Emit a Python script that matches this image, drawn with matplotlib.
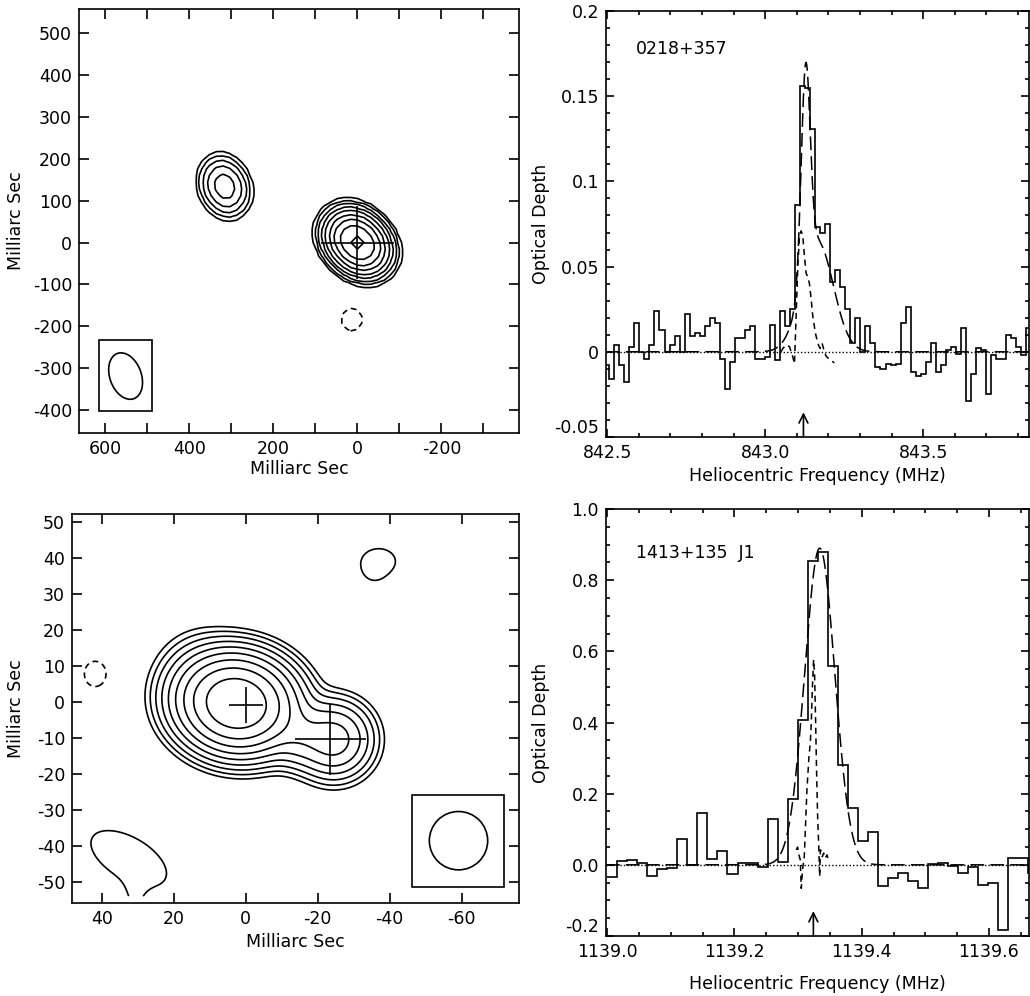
import numpy as np
import matplotlib
matplotlib.use("Agg")
import matplotlib.pyplot as plt
from matplotlib.ticker import MultipleLocator, FuncFormatter, FixedLocator
from matplotlib.patches import Ellipse, Rectangle

plt.rcParams['font.family'] = ['DejaVu Sans']
plt.rcParams['font.size'] = 12

# ---------------- DATA ----------------
# Top-left map (0218+357): Gaussian model components (mas)
tl_x = [0.0, 316.0, 13.0]
tl_y = [0.0, 134.0, -184.0]
tl_amp = [293.0, 24.0, -1.6]
tl_smaj = [34.7, 33.3, 28.0]
tl_smin = [27.3, 25.9, 26.0]
tl_pa = [45.0, 20.0, 0.0]
tl_levels = [-1, 1, 2, 4, 8, 16, 32, 64, 128, 256]
tl_pixel = 16.0
tl_cross_x, tl_cross_y, tl_cross_ex, tl_cross_ey = [0.0], [0.0], [87.0], [87.0]
tl_beam = dict(x=552.0, y=-319.0, w=75.0, h=115.0, angle=-20.0)
tl_box = dict(x0=615.0, x1=490.0, y0=-403.0, y1=-234.0)

# Bottom-left map (1413+135)
bl_x = [2.6, -24.5, -15.0, 13.0, -37.0, -35.5, 41.8, 32.5, 31.0]
bl_y = [-0.5, -10.5, -9.0, 9.0, 39.0, 35.5, 7.7, -43.5, -56.0]
bl_amp = [500.0, 44.0, 22.0, 3.0, 1.5, 0.6, -1.65, 1.6, 0.7]
bl_smaj = [7.2, 5.1, 4.5, 6.0, 5.0, 2.5, 3.5, 12.0, 5.0]
bl_smin = [5.9, 5.1, 4.5, 6.0, 3.8, 2.5, 3.0, 6.0, 2.5]
bl_pa = [80.0, 0.0, 0.0, 0.0, 90.0, 0.0, 0.0, 60.0, 0.0]
bl_levels = [-1, 1, 2, 4, 8, 16, 32, 64, 128, 256]
bl_cross_x = [0.0, -23.5]
bl_cross_y = [-1.0, -10.4]
bl_cross_ex = [4.7, 9.9]
bl_cross_ey = [5.0, 9.85]
bl_beam = dict(x=-59.1, y=-38.6, d=16.2)
bl_box = dict(x0=-46.1, x1=-71.8, y0=-51.5, y1=-25.8)

# Top-right spectrum (0218+357)
tr_edge0 = 842.4904
tr_width = 0.0159
tr_tau = [-0.008, -0.016, 0.004, -0.0075, -0.0176, 0.003, 0.017, 0.0, -0.004, 0.004,
          0.024, 0.0127, 0.0, 0.004, 0.009, 0.0, 0.022, 0.009, 0.011, 0.009,
          0.015, 0.020, 0.017, -0.004, -0.022, -0.006, 0.008, 0.008, 0.013, 0.015,
          -0.004, -0.004, -0.003, 0.016, -0.005, 0.024, 0.015, 0.025, 0.086, 0.156,
          0.155, 0.131, 0.073, 0.070, 0.075, 0.041, 0.048, 0.038, 0.025, 0.005,
          0.020, 0.0, 0.015, 0.005, -0.009, -0.010, -0.007, -0.0075, -0.007, 0.017,
          0.026, -0.012, -0.014, -0.013, -0.006, 0.005, -0.012, -0.008, 0.001, 0.003,
          -0.001, 0.014, -0.029, -0.013, 0.002, 0.001, -0.025, -0.002, -0.004, -0.004,
          0.010, 0.008, 0.003, -0.002, 0.014]
tr_fit_c = [843.128, 843.165]
tr_fit_a = [0.12, 0.065]
tr_fit_s = [0.014, 0.05]
tr_alt_f = [843.050, 843.0558, 843.0663, 843.0768, 843.0874, 843.0926, 843.0979, 843.1032,
            843.1084, 843.1137, 843.1189, 843.1242, 843.1295, 843.1347, 843.140, 843.1453,
            843.1505, 843.1589, 843.1663, 843.1737, 843.180, 843.1874, 843.1926, 843.2032,
            843.2189]
tr_alt_tau = [0.0, 0.002, 0.004, 0.003, -0.003, -0.007, 0.021, 0.050, 0.068, 0.071,
              0.068, 0.056, 0.046, 0.044, 0.040, 0.031, 0.021, 0.011, 0.005, 0.002,
              0.005, 0.0, -0.0025, -0.0045, -0.0065]
tr_arrow_f = 843.121
tr_label = "0218+357"
tr_yticks = [-0.05, 0.0, 0.05, 0.1, 0.15, 0.2]

# Bottom-right spectrum (1413+135 J1)
br_edge0 = 1139.0
br_width = 0.01575
br_tau = [-0.033, 0.011, 0.013, 0.004, -0.032, -0.012, -0.010, 0.072, 0.0, 0.147,
          0.016, 0.040, -0.025, 0.005, 0.006, -0.005, 0.129, 0.008, 0.186, 0.408,
          0.855, 0.880, 0.560, 0.280, 0.161, 0.068, 0.093, -0.060, -0.038, -0.022,
          -0.045, -0.064, 0.003, 0.005, -0.003, -0.022, -0.005, -0.056, -0.050, -0.184,
          0.020, 0.019, -0.024]
br_fit_c = [1139.334]
br_fit_a = [0.89]
br_fit_s = [0.0237]
br_alt_f = [1139.2971, 1139.2992, 1139.3013, 1139.3034, 1139.305, 1139.3066, 1139.3076,
            1139.3097, 1139.3118, 1139.3139, 1139.3171, 1139.3192, 1139.3207, 1139.3223,
            1139.3244, 1139.326, 1139.3276, 1139.3291, 1139.3307, 1139.3323, 1139.3339,
            1139.335, 1139.3365, 1139.3381, 1139.3402, 1139.3428, 1139.3454, 1139.348,
            1139.3507]
br_alt_tau = [0.042, 0.050, 0.028, 0.014, -0.066, -0.023, -0.005, 0.023, 0.117, 0.211,
              0.305, 0.342, 0.399, 0.492, 0.577, 0.530, 0.399, 0.258, 0.136, 0.061,
              -0.033, 0.042, 0.038, 0.023, 0.033, 0.019, 0.028, 0.012, 0.014]
br_arrow_f = 1139.324
br_label = "1413+135  J1"
br_yticks = [-0.2, 0.0, 0.2, 0.4, 0.6, 0.8, 1.0]
br_xticks = [1139.0, 1139.2, 1139.4, 1139.6]


# ---------------- HELPERS ----------------
def model_map(X, Y, xs, ys, amps, smaj, smin, pas):
    Z = np.zeros_like(X)
    for x0, y0, a, s1, s2, pa in zip(xs, ys, amps, smaj, smin, pas):
        t = np.deg2rad(pa)
        dx, dy = X - x0, Y - y0
        u = dx * np.sin(t) + dy * np.cos(t)
        v = dx * np.cos(t) - dy * np.sin(t)
        Z += a * np.exp(-0.5 * (u ** 2 / s1 ** 2 + v ** 2 / s2 ** 2))
    return Z


def gauss_sum(f, cs, amps, sigs):
    out = np.zeros_like(f)
    for c, a, s in zip(cs, amps, sigs):
        out += a * np.exp(-0.5 * ((f - c) / s) ** 2)
    return out


def style_axes(ax, major_len=6, minor_len=3):
    for sp in ax.spines.values():
        sp.set_linewidth(1.2)
    ax.tick_params(which='both', direction='in', top=True, right=True, width=1.2,
                   labelsize=12.5, pad=5)
    ax.tick_params(which='major', length=major_len)
    ax.tick_params(which='minor', length=minor_len)


lw = 1.2
fig = plt.figure(figsize=(10.3, 9.96), dpi=100)

# ---------------- TOP LEFT ----------------
ax1 = fig.add_axes([79 / 1030, 1 - 433 / 996, 440 / 1030, 424 / 996])
gx = np.arange(-26, 44) * tl_pixel
gy = np.arange(-29, 36) * tl_pixel
X, Y = np.meshgrid(gx, gy)
Z = model_map(X, Y, tl_x, tl_y, tl_amp, tl_smaj, tl_smin, tl_pa)
ax1.contour(X, Y, Z, levels=tl_levels, colors='k', linewidths=lw,
            linestyles=[(0, (3.5, 2.5)) if l < 0 else '-' for l in tl_levels])
ax1.errorbar(tl_cross_x, tl_cross_y, xerr=tl_cross_ex, yerr=tl_cross_ey, fmt='none',
             ecolor='k', elinewidth=lw, capsize=0)
ax1.add_patch(Rectangle((tl_box['x1'], tl_box['y0']), tl_box['x0'] - tl_box['x1'],
                        tl_box['y1'] - tl_box['y0'], fill=False, lw=lw, ec='k'))
ax1.add_patch(Ellipse((tl_beam['x'], tl_beam['y']), tl_beam['w'], tl_beam['h'],
                      angle=tl_beam['angle'], fill=False, lw=lw, ec='k'))
ax1.set_xlim(663, -385)
ax1.set_ylim(-455, 558)
ax1.xaxis.set_major_locator(MultipleLocator(100))
ax1.xaxis.set_major_formatter(FuncFormatter(lambda v, p: f"{int(round(v))}" if int(round(v)) % 200 == 0 else ""))
ax1.yaxis.set_major_locator(MultipleLocator(100))
ax1.yaxis.set_major_formatter(FuncFormatter(lambda v, p: f"{int(round(v))}"))
style_axes(ax1, major_len=7)
ax1.set_xlabel("Milliarc Sec", fontsize=12.5)
ax1.set_ylabel("Milliarc Sec", fontsize=12.5)
ax1.xaxis.set_label_coords(0.5, -0.064)
ax1.yaxis.set_label_coords(-0.123, 0.5)

# ---------------- BOTTOM LEFT ----------------
ax3 = fig.add_axes([72 / 1030, 1 - 903 / 996, 447 / 1030, 389 / 996])
gx = np.arange(-80, 52, 0.4)
gy = np.arange(-54, 56, 0.4)
X, Y = np.meshgrid(gx, gy)
Z = model_map(X, Y, bl_x, bl_y, bl_amp, bl_smaj, bl_smin, bl_pa)
ax3.contour(X, Y, Z, levels=bl_levels, colors='k', linewidths=lw,
            linestyles=[(0, (3.5, 2.5)) if l < 0 else '-' for l in bl_levels])
ax3.errorbar(bl_cross_x, bl_cross_y, xerr=bl_cross_ex, yerr=bl_cross_ey, fmt='none',
             ecolor='k', elinewidth=lw, capsize=0)
ax3.add_patch(Rectangle((bl_box['x1'], bl_box['y0']), bl_box['x0'] - bl_box['x1'],
                        bl_box['y1'] - bl_box['y0'], fill=False, lw=lw, ec='k'))
ax3.add_patch(Ellipse((bl_beam['x'], bl_beam['y']), bl_beam['d'], bl_beam['d'],
                      fill=False, lw=lw, ec='k'))
ax3.set_xlim(48.25, -75.9)
ax3.set_ylim(-55.9, 52.1)
ax3.xaxis.set_major_locator(MultipleLocator(20))
ax3.xaxis.set_major_formatter(FuncFormatter(lambda v, p: f"{int(round(v))}"))
ax3.yaxis.set_major_locator(MultipleLocator(10))
ax3.yaxis.set_major_formatter(FuncFormatter(lambda v, p: f"{int(round(v))}"))
style_axes(ax3, major_len=7)
ax3.set_xlabel("Milliarc Sec", fontsize=12.5)
ax3.set_ylabel("Milliarc Sec", fontsize=12.5)
ax3.xaxis.set_label_coords(0.5, -0.077)
ax3.yaxis.set_label_coords(-0.105, 0.5)


# ---------------- SPECTRA ----------------
def spectrum(ax, edge0, width, tau, fit_c, fit_a, fit_s, alt_f, alt_tau, xlim, ylim,
             arrow_f, arrow_len, label, label_y):
    edges = edge0 + width * np.arange(len(tau) + 1)
    ax.stairs(tau, edges, color='k', lw=lw, baseline=None)
    f = np.linspace(xlim[0], xlim[1], 2000)
    ax.plot(xlim, [0, 0], color='k', lw=1.0, ls=(0, (1, 1.5)))
    ax.plot(f, gauss_sum(f, fit_c, fit_a, fit_s), color='k', lw=1.1, ls=(0, (9, 4)))
    ax.plot(alt_f, alt_tau, color='k', lw=1.1, ls=(0, (4, 3)))
    ax.annotate('', xy=(arrow_f, ylim[0] + arrow_len), xytext=(arrow_f, ylim[0]),
                arrowprops=dict(arrowstyle='->', lw=1.2, color='k', mutation_scale=16,
                                shrinkA=0, shrinkB=0))
    ax.set_xlim(*xlim)
    ax.set_ylim(*ylim)
    ax.text(0.071, label_y, label, transform=ax.transAxes, fontsize=12.5, va='center')
    style_axes(ax, major_len=6, minor_len=3)
    ax.set_xlabel("Heliocentric Frequency (MHz)", fontsize=12.5)
    ax.set_ylabel("Optical Depth", fontsize=12.5)


ax2 = fig.add_axes([606 / 1030, 1 - 437 / 996, 423 / 1030, 426 / 996])
spectrum(ax2, tr_edge0, tr_width, tr_tau, tr_fit_c, tr_fit_a, tr_fit_s, tr_alt_f, tr_alt_tau,
         (842.496, 843.835), (-0.05, 0.2), tr_arrow_f, 0.0145, tr_label, 0.911)
ax2.xaxis.set_major_locator(FixedLocator([842.5, 843.0, 843.5]))
ax2.xaxis.set_minor_locator(FixedLocator(np.round(np.arange(842.5, 843.85, 0.1), 3)))
ax2.xaxis.set_major_formatter(FuncFormatter(lambda v, p: f"{v:.1f}"))
ax2.yaxis.set_major_locator(FixedLocator(tr_yticks))
ax2.yaxis.set_minor_locator(MultipleLocator(0.01))
ax2.yaxis.set_major_formatter(FuncFormatter(lambda v, p: f"{round(v, 3):g}"))
ax2.xaxis.set_label_coords(0.5, -0.070)
ax2.yaxis.set_label_coords(-0.132, 0.5)

ax4 = fig.add_axes([606 / 1030, 1 - 936 / 996, 423 / 1030, 427 / 996])
spectrum(ax4, br_edge0, br_width, br_tau, br_fit_c, br_fit_a, br_fit_s, br_alt_f, br_alt_tau,
         (1138.998, 1139.663), (-0.2, 1.0), br_arrow_f, 0.07, br_label, 0.897)
ax4.xaxis.set_major_locator(FixedLocator(br_xticks))
ax4.xaxis.set_minor_locator(MultipleLocator(0.05))
ax4.xaxis.set_major_formatter(FuncFormatter(lambda v, p: f"{v:.1f}"))
ax4.yaxis.set_major_locator(FixedLocator(br_yticks))
ax4.yaxis.set_minor_locator(MultipleLocator(0.05))
ax4.yaxis.set_major_formatter(FuncFormatter(lambda v, p: f"{v:.1f}"))
ax4.xaxis.set_label_coords(0.5, -0.091)
ax4.yaxis.set_label_coords(-0.132, 0.5)

# lift the lowest y tick label of each spectrum off the corner, as in the original
for ax in (ax2, ax4):
    ax.yaxis.get_major_ticks()[0].label1.set_verticalalignment('bottom')

fig.savefig("out.png", dpi=100)
